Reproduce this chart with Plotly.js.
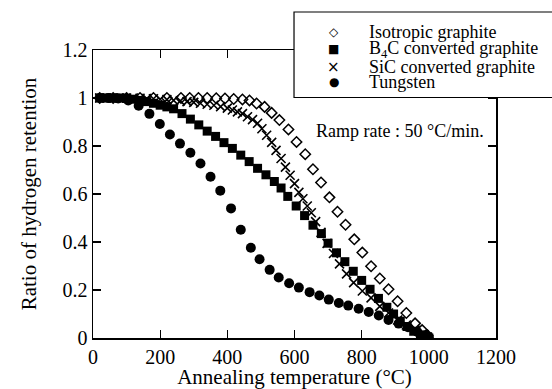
<!DOCTYPE html>
<html>
<head>
<meta charset="utf-8">
<script src="https://cdn.plot.ly/plotly-3.0.1.min.js"></script>
<style>html,body{margin:0;padding:0;background:#fff;}#chart{width:552px;height:389px;}</style>
</head>
<body>
<div id="chart"></div>
<script>
// Isotropic graphite (open diamonds)
const isoX = [20, 60, 100, 140, 180, 220, 262, 288, 314, 340, 367, 393, 419, 445, 466, 487, 511, 532, 555, 582, 606, 632, 655, 679, 704, 728, 752, 778, 802, 828, 854, 880, 907, 933, 959, 980, 996];
const isoY = [1.0, 1.0, 1.0, 1.0, 1.0, 1.0, 1.0, 1.0, 1.0, 1.0, 0.999, 0.998, 0.996, 0.994, 0.99, 0.977, 0.963, 0.938, 0.908, 0.869, 0.817, 0.766, 0.703, 0.648, 0.586, 0.526, 0.472, 0.411, 0.356, 0.299, 0.248, 0.203, 0.153, 0.104, 0.061, 0.033, 0.011];

// B4C converted graphite (filled squares)
const b4cX = [20, 40, 60, 80, 100, 120, 140, 160, 180, 200, 220, 240, 265, 290, 315, 340, 365, 390, 415, 440, 465, 490, 515, 540, 560, 580, 605, 630, 655, 680, 700, 725, 750, 775, 800, 825, 850, 875, 895, 915, 935, 955, 975, 990, 1000];
const b4cY = [1.0, 1.0, 1.0, 1.0, 0.998, 0.995, 0.99, 0.985, 0.978, 0.97, 0.963, 0.955, 0.935, 0.912, 0.888, 0.862, 0.84, 0.814, 0.79, 0.762, 0.735, 0.707, 0.68, 0.652, 0.625, 0.59, 0.55, 0.51, 0.47, 0.435, 0.395, 0.355, 0.318, 0.278, 0.24, 0.203, 0.165, 0.128, 0.10, 0.07, 0.048, 0.028, 0.013, 0.005, 0.0];

// SiC converted graphite (crosses)
const sicX = [20, 40, 60, 80, 100, 120, 140, 160, 180, 200, 220, 240, 260, 280, 300, 320, 340, 360, 380, 400, 415, 430, 445, 460, 475, 490, 503, 517, 532, 545, 560, 573, 587, 600, 613, 625, 638, 650, 663, 679, 697, 716, 734, 755, 776, 802, 828, 854, 880, 907, 933, 959, 980, 996];
const sicY = [1.0, 1.0, 1.0, 1.0, 1.0, 1.0, 0.999, 0.998, 0.997, 0.995, 0.993, 0.99, 0.988, 0.985, 0.982, 0.978, 0.974, 0.97, 0.964, 0.958, 0.95, 0.942, 0.935, 0.922, 0.91, 0.895, 0.872, 0.845, 0.815, 0.782, 0.748, 0.712, 0.678, 0.643, 0.607, 0.58, 0.55, 0.522, 0.485, 0.44, 0.394, 0.352, 0.309, 0.267, 0.231, 0.196, 0.167, 0.132, 0.104, 0.075, 0.054, 0.033, 0.016, 0.004];

// Tungsten (filled circles)
const wX = [20, 45, 75, 105, 136, 168, 199, 229, 259, 290, 320, 350, 379, 411, 440, 470, 496, 526, 553, 584, 613, 645, 674, 702, 732, 760, 791, 821, 851, 880, 910, 938, 966, 990, 1000];
const wY = [1.0, 1.0, 0.998, 0.99, 0.968, 0.934, 0.892, 0.848, 0.810, 0.772, 0.727, 0.672, 0.614, 0.540, 0.451, 0.376, 0.328, 0.284, 0.252, 0.228, 0.210, 0.191, 0.177, 0.160, 0.146, 0.135, 0.122, 0.108, 0.094, 0.075, 0.060, 0.045, 0.025, 0.010, 0.003];

const seriesNames = ["Isotropic graphite", "B<sub>4</sub>C converted graphite", "SiC converted graphite", "Tungsten"];
const legendGlyphs = ["◇", "■", "×", "●"];
const xTicks = [0, 200, 400, 600, 800, 1000, 1200];
const yTicks = [0, 0.2, 0.4, 0.6, 0.8, 1, 1.2];
const yTickText = ["0", "0.2", "0.4", "0.6", "0.8", "1", "1.2"];

const FONT = "Liberation Serif";

const traces = [
  {x: isoX, y: isoY, mode: "markers", type: "scatter", name: seriesNames[0],
   marker: {symbol: "diamond-open", size: 8, color: "#000", line: {width: 1.5, color: "#000"}}},
  {x: b4cX, y: b4cY, mode: "markers", type: "scatter", name: seriesNames[1],
   marker: {symbol: "square", size: 9, color: "#000"}},
  {x: sicX, y: sicY, mode: "markers", type: "scatter", name: seriesNames[2],
   marker: {symbol: "x-thin-open", size: 9, color: "#000", line: {width: 1.6, color: "#000"}}},
  {x: wX, y: wY, mode: "markers", type: "scatter", name: seriesNames[3],
   marker: {symbol: "circle", size: 10, color: "#000"}}
];

// legend layout (paper coordinates)
const legRowY = [1.062, 1.003, 0.941, 0.889];
const annotations = [];
for (let i = 0; i < 4; i++) {
  annotations.push({xref: "paper", yref: "paper", x: 0.598, y: legRowY[i], text: legendGlyphs[i],
    showarrow: false, xanchor: "center", yanchor: "middle",
    font: {family: "DejaVu Sans", size: i === 2 ? 15 : 12, color: "#000"}});
  annotations.push({xref: "paper", yref: "paper", x: 0.680, y: legRowY[i], text: seriesNames[i],
    showarrow: false, xanchor: "left", yanchor: "middle", align: "left",
    font: {family: FONT, size: 18, color: "#000"}});
}
annotations.push({xref: "paper", yref: "paper", x: 0.762, y: 0.719, text: "Ramp rate : 50 °C/min.",
  showarrow: false, xanchor: "center", yanchor: "middle", font: {family: FONT, size: 18, color: "#000"}});

const axisCommon = {
  showline: true, linecolor: "#000", linewidth: 1.5, mirror: "ticks",
  ticks: "inside", ticklen: 8, tickwidth: 1.2, tickcolor: "#000",
  showgrid: false, zeroline: false,
  tickfont: {family: FONT, size: 20, color: "#000"}
};

const layout = {
  width: 552, height: 389,
  margin: {l: 93, r: 56, t: 50, b: 51},
  paper_bgcolor: "#fff", plot_bgcolor: "#fff",
  showlegend: false,
  font: {family: FONT, color: "#000"},
  xaxis: Object.assign({}, axisCommon, {
    range: [0, 1200], tickvals: xTicks, ticktext: xTicks.map(String),
    title: {text: "Annealing temperature (°C)", font: {family: FONT, size: 21, color: "#000"}, standoff: 6}
  }),
  yaxis: Object.assign({}, axisCommon, {
    range: [0, 1.2], tickvals: yTicks, ticktext: yTickText,
    title: {text: "Ratio of hydrogen retention", font: {family: FONT, size: 21, color: "#000"}, standoff: 20}
  }),
  shapes: [
    {type: "rect", xref: "paper", yref: "paper", x0: 0.4988, x1: 1.3, y0: 0.835, y1: 1.132,
     line: {color: "#000", width: 1.2}, fillcolor: "#fff", layer: "above"}
  ],
  annotations: annotations
};

Plotly.newPlot("chart", traces, layout, {displayModeBar: false, staticPlot: true});
</script>
</body>
</html>
